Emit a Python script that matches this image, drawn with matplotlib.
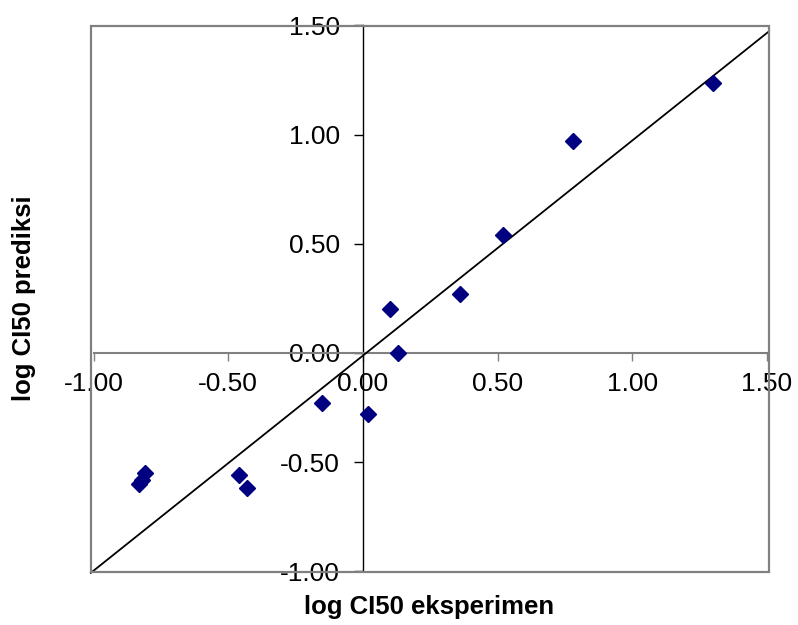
import matplotlib
matplotlib.use("Agg")
import matplotlib.pyplot as plt
from matplotlib.patches import Rectangle
import numpy as np

plt.rcParams['font.family'] = ['Liberation Sans', 'DejaVu Sans']

# log CI50 values
log_ci50_eksperimen = [-0.81, -0.82, -0.83, -0.46, -0.43, -0.15, 0.02,
                       0.10, 0.13, 0.36, 0.52, 0.78, 1.30]
log_ci50_prediksi = [-0.55, -0.58, -0.60, -0.56, -0.62, -0.23, -0.28,
                     0.20, 0.00, 0.27, 0.54, 0.97, 1.235]

# trendline drawn on the chart
trend_slope = 0.985
trend_intercept = -0.012

ticks = [-1.0, -0.5, 0.0, 0.5, 1.0, 1.5]

fig = plt.figure(figsize=(7.98, 6.25), dpi=100)
W, H = 798, 625
ax = fig.add_axes([93.5 / W, (H - 571.4) / H, 673.5 / W, 546 / H])
ax.set_xlim(-1.0, 1.5)
ax.set_ylim(-1.0, 1.5)

# axes cross at the origin
for side in ['top', 'right']:
    ax.spines[side].set_visible(False)
ax.spines['left'].set_position(('data', 0))
ax.spines['bottom'].set_position(('data', 0))
ax.spines['left'].set_color('black')
ax.spines['left'].set_linewidth(1.0)
ax.spines['bottom'].set_color('#808080')
ax.spines['bottom'].set_linewidth(1.5)

ax.set_xticks(ticks)
ax.set_yticks(ticks)
ax.set_xticklabels([f'{t:.2f}' for t in ticks])
ax.set_yticklabels([f'{t:.2f}' for t in ticks])
ax.tick_params(axis='y', direction='out', length=6.5, width=1, color='black',
               pad=10, labelsize=19)
ax.tick_params(axis='x', direction='out', length=5.5, width=1, color='#808080',
               pad=8, labelsize=19)

# plot area frame
fig.patches.append(Rectangle((91 / W, (H - 572) / H), 678 / W, 546.5 / H,
                             transform=fig.transFigure, fill=False,
                             edgecolor='#808080', linewidth=1.6, zorder=0))

xs = np.array([-1.01, 1.507])
ax.plot(xs, trend_slope * xs + trend_intercept, color='black', lw=1.3,
        clip_on=False, zorder=3)

ax.plot(log_ci50_eksperimen, log_ci50_prediksi, linestyle='none', marker='D',
        markersize=8, color='#000080', zorder=4)

fig.text(429 / W, 1 - 607 / H, 'log CI50 eksperimen', ha='center', va='center',
         fontsize=18.5, fontweight='bold')
fig.text(24 / W, 1 - 298 / H, 'log CI50 prediksi', ha='center', va='center',
         rotation=90, fontsize=18.5, fontweight='bold')

fig.savefig('out.png', dpi=100)
